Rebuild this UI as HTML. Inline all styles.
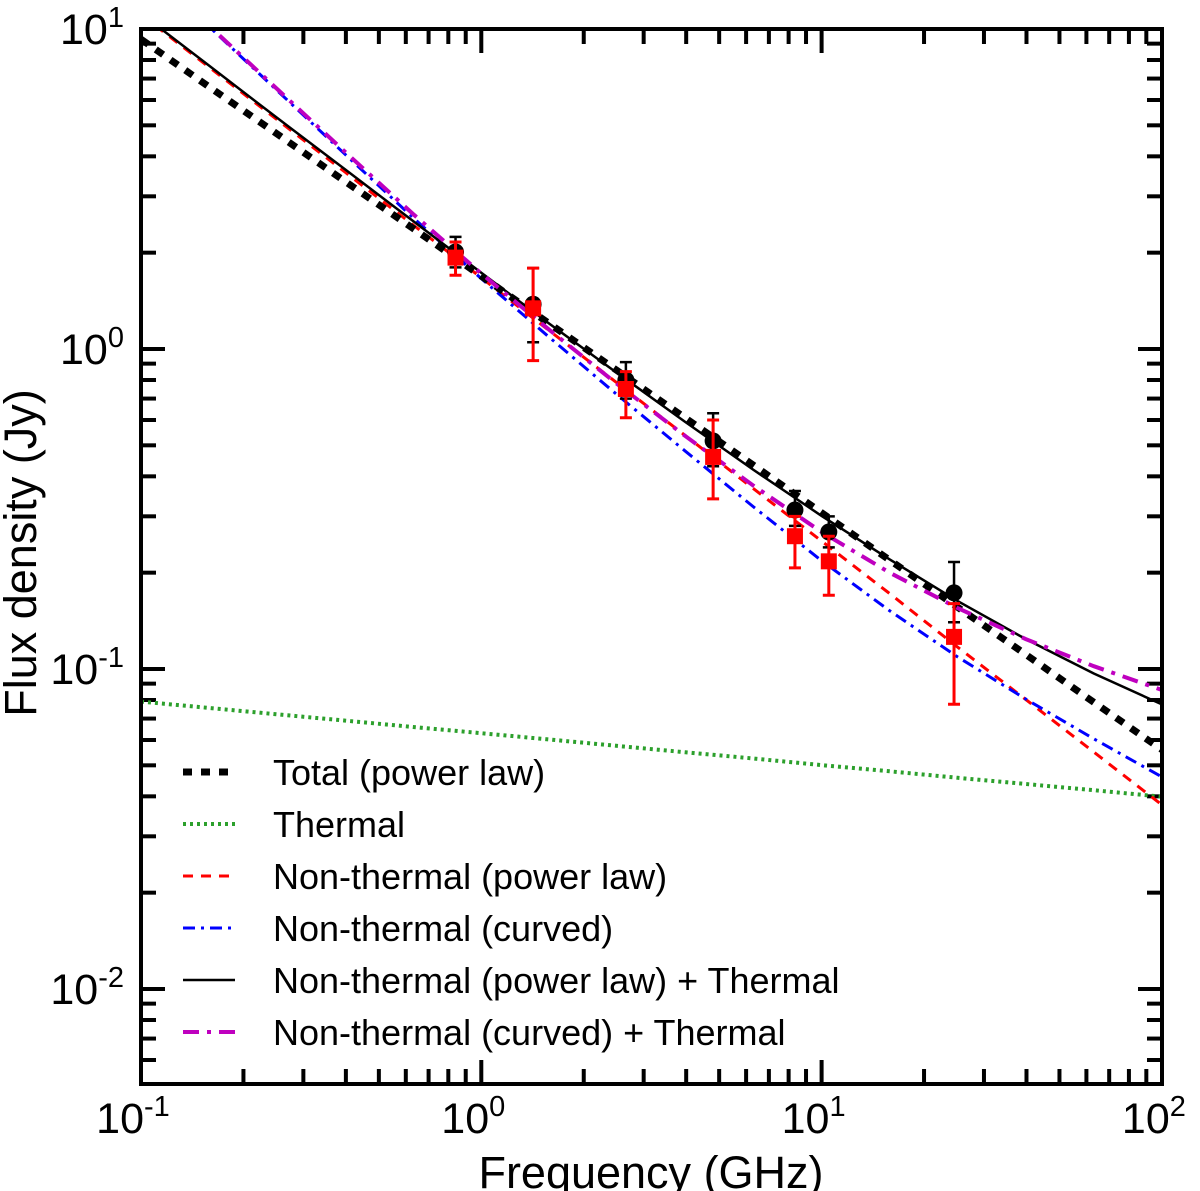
<!DOCTYPE html>
<html><head><meta charset="utf-8"><style>
html,body{margin:0;padding:0;background:#fff;}
svg{display:block;font-family:"Liberation Sans",Arial,sans-serif;}
</style></head><body>
<svg id="chart" width="1200" height="1191" viewBox="0 0 1200 1191" xmlns="http://www.w3.org/2000/svg">
<defs><clipPath id="plotclip"><rect x="141" y="29" width="1021" height="1055"/></clipPath></defs>
<g id="grid"></g>
<g id="series" clip-path="url(#plotclip)"></g>
<g id="points"></g>
<rect x="141" y="29" width="1021" height="1055" fill="none" stroke="#000" stroke-width="4"/>
<g id="labels"></g>
<text x="651" y="1188" font-size="45" text-anchor="middle">Frequency (GHz)</text>
<text transform="translate(36,553) rotate(-90)" font-size="45" text-anchor="middle">Flux density (Jy)</text>
<g id="legend"></g>
</svg>
<script>
const freqs=[0.1,0.158,0.251,0.398,0.631,1,1.585,2.512,3.981,6.31,10,15.85,25.12,39.81,63.1,100];
const total=[9.29,6.61,4.70,3.34,2.38,1.69,1.20,0.855,0.608,0.433,0.308,0.219,0.156,0.111,0.0787,0.056];
const thermal=[0.0791,0.0756,0.0722,0.0690,0.0659,0.0630,0.0602,0.0575,0.0549,0.0525,0.0501,0.0479,0.0457,0.0437,0.0418,0.0399];
const ntPower=[11.1,7.62,5.21,3.57,2.44,1.67,1.14,0.782,0.536,0.366,0.251,0.172,0.117,0.0803,0.055,0.0376];
const ntCurved=[16.2,10.2,6.43,4.06,2.57,1.66,1.087,0.718,0.479,0.321,0.218,0.152,0.109,0.0805,0.0605,0.046];
const ntPowerTh=[11.18,7.70,5.28,3.64,2.51,1.73,1.20,0.840,0.591,0.419,0.301,0.220,0.163,0.124,0.0968,0.0775];
const ntCurvedTh=[16.28,10.28,6.50,4.13,2.64,1.72,1.147,0.776,0.534,0.374,0.268,0.200,0.155,0.124,0.102,0.086];
const obsFreq=[0.84,1.42,2.66,4.8,8.35,10.5,24.5];
const totFlux=[2.01,1.38,0.80,0.516,0.314,0.268,0.173];
const totLo=[1.80,1.05,0.70,0.43,0.28,0.24,0.14];
const totHi=[2.24,1.79,0.91,0.63,0.36,0.30,0.216];
const ntFlux=[1.93,1.34,0.75,0.46,0.26,0.217,0.126];
const ntLo=[1.70,0.92,0.61,0.34,0.207,0.17,0.0776];
const ntHi=[2.16,1.79,0.85,0.60,0.30,0.26,0.16];
const xTicks=[0.1,1,10,100];
const xTickExp=["-1","0","1","2"];
const yTicks=[10,1,0.1,0.01];
const yTickExp=["1","0","-1","-2"];

const NS="http://www.w3.org/2000/svg";
const X=f=>141+(Math.log10(f)+1)*340.3;
const Y=s=>29+(1-Math.log10(s))*320;
function mk(tag,attrs,parent){const e=document.createElementNS(NS,tag);for(const k in attrs)e.setAttribute(k,attrs[k]);parent.appendChild(e);return e;}
const grid=document.getElementById('grid'),ser=document.getElementById('series'),pts=document.getElementById('points'),lab=document.getElementById('labels'),leg=document.getElementById('legend');

for(let d=-1;d<2;d++){for(let m=1;m<10;m++){const f=m*Math.pow(10,d);const x=X(f);const L=m===1?24:15;
 let t=mk('line',{x1:x,x2:x,y1:1084,y2:1084-L,stroke:'#000','stroke-width':4},grid);
 
 t=mk('line',{x1:x,x2:x,y1:29,y2:29+L,stroke:'#000','stroke-width':4},grid);
 }}
for(let d=-3;d<1;d++){for(let m=1;m<10;m++){const s=m*Math.pow(10,d);const y=Y(s);if(y>1084||y<29)continue;const L=m===1?24:15;
 let t=mk('line',{x1:141,x2:141+L,y1:y,y2:y,stroke:'#000','stroke-width':4},grid);
 
 t=mk('line',{x1:1162,x2:1162-L,y1:y,y2:y,stroke:'#000','stroke-width':4},grid);
 }}
xTicks.forEach((f,i)=>{const t=mk('text',{x:X(f)-8,y:1133,'font-size':43,'text-anchor':'middle'},lab);
 
 t.textContent='10';const s=mk('tspan',{'font-size':29,dy:-17},t);s.textContent=xTickExp[i];});
yTicks.forEach((v,i)=>{const t=mk('text',{x:124,y:Y(v)+15,'font-size':43,'text-anchor':'end'},lab);
 
 t.textContent='10';const s=mk('tspan',{'font-size':29,dy:-17},t);s.textContent=yTickExp[i];});

const styles=[
 {d:total,c:'#000',w:7,da:'9 9',n:'total-power-law-line',l:'Total (power law)'},
 {d:thermal,c:'#2ca02c',w:4,da:'3 4',n:'thermal-line',l:'Thermal'},
 {d:ntPower,c:'#ff0000',w:3,da:'10 8',n:'nonthermal-power-law-line',l:'Non-thermal (power law)'},
 {d:ntCurved,c:'#0000ff',w:3,da:'12 6 3 6',n:'nonthermal-curved-line',l:'Non-thermal (curved)'},
 {d:ntPowerTh,c:'#000',w:2.5,da:'',n:'nonthermal-power-plus-thermal-line',l:'Non-thermal (power law) + Thermal'},
 {d:ntCurvedTh,c:'#bf00bf',w:4,da:'16 8 4 8',n:'nonthermal-curved-plus-thermal-line',l:'Non-thermal (curved) + Thermal'}];
const order=[1,2,3,4,0,5];
order.forEach(i=>{const st=styles[i];const p=mk('polyline',{points:st.d.map((v,j)=>X(freqs[j]).toFixed(1)+','+Y(v).toFixed(1)).join(' '),fill:'none',stroke:st.c,'stroke-width':st.w,'stroke-dasharray':st.da},ser);
 });

obsFreq.forEach((f,i)=>{const x=X(f);
 const e=mk('path',{d:`M${x},${Y(totLo[i])}V${Y(totHi[i])}M${x-6},${Y(totLo[i])}h12M${x-6},${Y(totHi[i])}h12`,stroke:'#000','stroke-width':2.5,fill:'none'},pts);
 
 const c=mk('circle',{cx:x,cy:Y(totFlux[i]),r:8.5,fill:'#000'},pts);
 });
obsFreq.forEach((f,i)=>{const x=X(f);
 const e=mk('path',{d:`M${x},${Y(ntLo[i])}V${Y(ntHi[i])}M${x-6},${Y(ntLo[i])}h12M${x-6},${Y(ntHi[i])}h12`,stroke:'#ff0000','stroke-width':3,fill:'none'},pts);
 
 const r=mk('rect',{x:x-8,y:Y(ntFlux[i])-8,width:16,height:16,fill:'#ff0000'},pts);
 });

styles.forEach((st,i)=>{const y=772+i*52;
 const g=mk('g',{},leg);
 mk('line',{x1:183,x2:235,y1:y,y2:y,stroke:st.c,'stroke-width':st.w,'stroke-dasharray':st.da},g);
 const t=mk('text',{x:273,y:y+13,'font-size':36},g);t.textContent=st.l;});
</script>
</body></html>
